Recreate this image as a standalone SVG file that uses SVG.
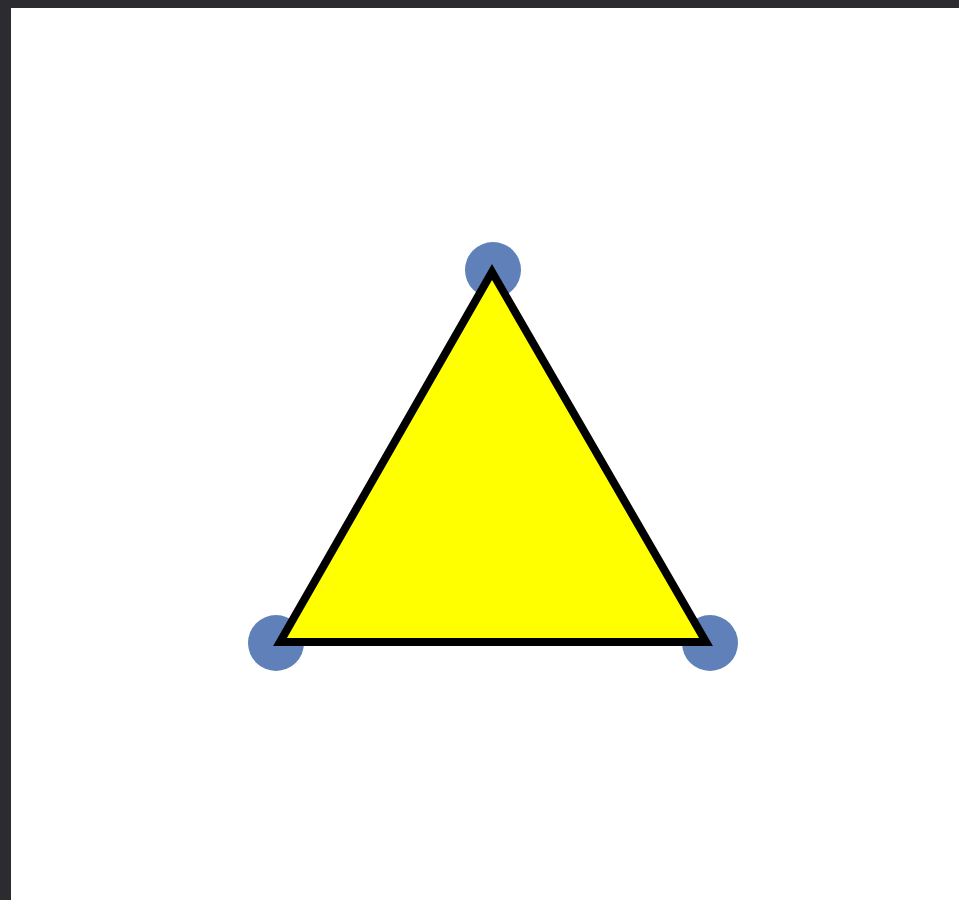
<svg xmlns="http://www.w3.org/2000/svg" width="959" height="900" viewBox="0 0 959 900">
<style>
.pt{fill:#5f80b8}
.tri{fill:#ffff00;stroke:#000;stroke-width:8;stroke-linejoin:miter}
</style>
<rect x="0" y="0" width="959" height="900" fill="#2b2b30"/>
<rect x="11" y="8" width="948" height="892" fill="#ffffff"/>
<g id="points">
<circle class="pt" cx="493" cy="270" r="28"/>
<circle class="pt" cx="276" cy="643" r="28"/>
<circle class="pt" cx="710" cy="643" r="28"/>
</g>
<g id="triangle">
<polygon class="tri" points="492,272 280,642 706,642"/>
</g>
</svg>
